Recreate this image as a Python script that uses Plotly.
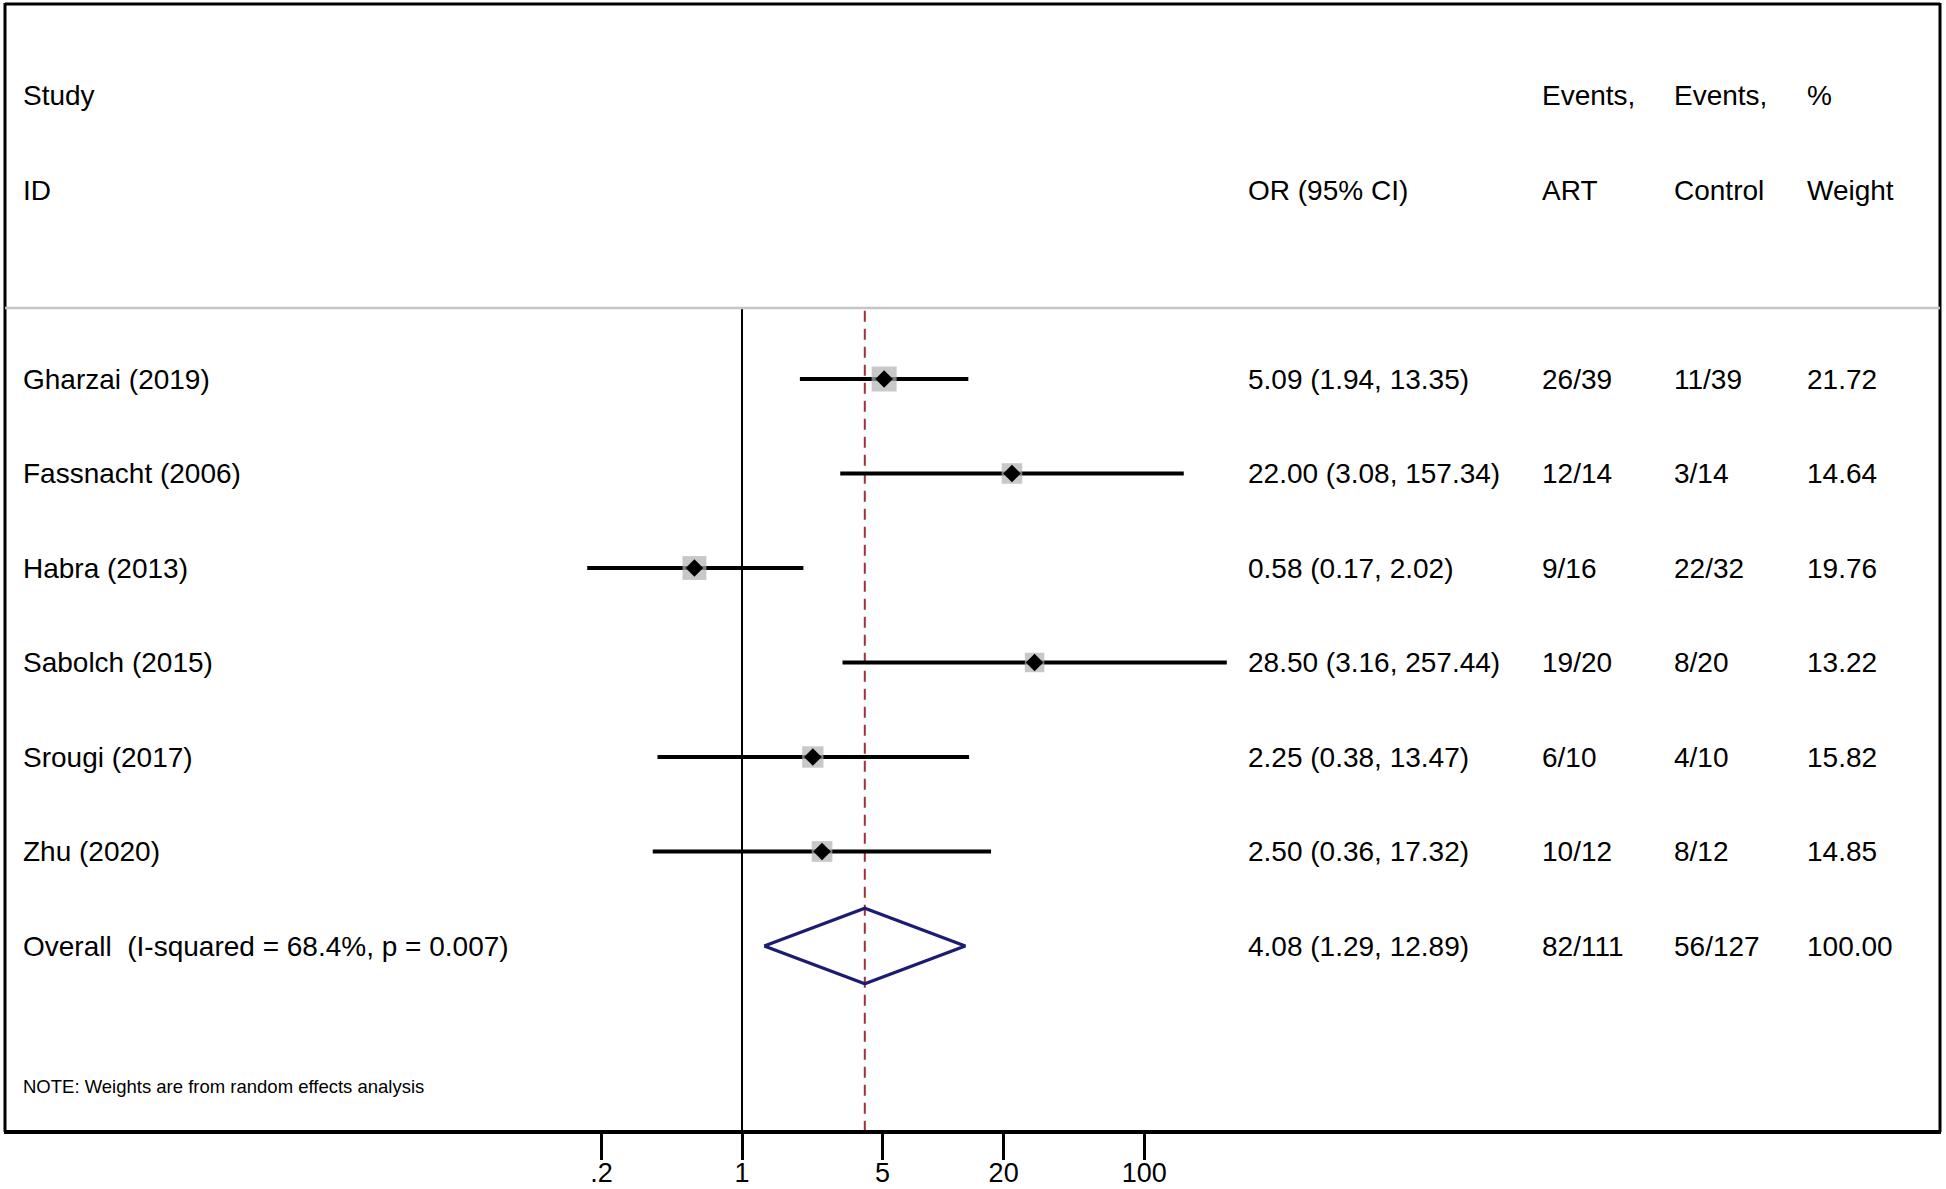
import plotly.graph_objects as go
import math

# ---------------- data ----------------
studies = ["Gharzai (2019)", "Fassnacht (2006)", "Habra (2013)", "Sabolch (2015)",
           "Srougi (2017)", "Zhu (2020)"]
or_est = [5.09, 22.00, 0.58, 28.50, 2.25, 2.50]
ci_lo = [1.94, 3.08, 0.17, 3.16, 0.38, 0.36]
ci_hi = [13.35, 157.34, 2.02, 257.44, 13.47, 17.32]
events_art = ["26/39", "12/14", "9/16", "19/20", "6/10", "10/12"]
events_ctrl = ["11/39", "3/14", "22/32", "8/20", "4/10", "8/12"]
weights = [21.72, 14.64, 19.76, 13.22, 15.82, 14.85]

overall_label = "Overall\u00a0\u00a0(I-squared = 68.4%, p = 0.007)"
overall_est = 4.08
overall_lo = 1.29
overall_hi = 12.89
overall_art = "82/111"
overall_ctrl = "56/127"
overall_weight = 100.00

tick_vals = [0.2, 1, 5, 20, 100]
tick_text = [".2", "1", "5", "20", "100"]

header_top = ["Study", "", "Events,", "Events,", "%"]
header_bot = ["ID", "OR (95% CI)", "ART", "Control", "Weight"]
note_text = "NOTE: Weights are from random effects analysis"

# ---------------- layout constants ----------------
W, H = 1946, 1189
MB = 57
PH = H - MB  # plot height
FONT = "Liberation Sans, Arial, sans-serif"
FS = 28

# y axis: row i at y=i ; px(from top) = 379 + 94.5*(y-1)
y_top = 1 - 379 / 94.5
y_bot = 1 + (PH - 379) / 94.5
# x axis (log): x=1 at px 742, 201.1 px / decade
x_left = (0 - 742) / 201.1
x_right = (W - 742) / 201.1

rows = list(range(1, len(studies) + 1))
overall_row = len(studies) + 1
line_y = 1 + (308 - 379) / 94.5
note_y = 1 + (1086 - 379) / 94.5

fig = go.Figure()

# reference line at 1
fig.add_trace(go.Scatter(x=[1, 1], y=[line_y, y_bot], mode="lines",
                         line=dict(color="black", width=2), hoverinfo="skip",
                         showlegend=False))
# overall dashed line
fig.add_trace(go.Scatter(x=[overall_est, overall_est], y=[line_y + 0.03, y_bot], mode="lines",
                         line=dict(color="#a3303a", width=2, dash="11px,7px"),
                         hoverinfo="skip", showlegend=False))

# CI lines
for r, lo, hi in zip(rows, ci_lo, ci_hi):
    fig.add_trace(go.Scatter(x=[lo, hi], y=[r, r], mode="lines",
                             line=dict(color="black", width=4),
                             hoverinfo="skip", showlegend=False))

# weight squares
fig.add_trace(go.Scatter(x=or_est, y=rows, mode="markers",
                         marker=dict(symbol="square", color="#b0b0b0",
                                     size=[25 * math.sqrt(w / 21.72) for w in weights],
                                     line=dict(width=0)),
                         hoverinfo="skip", showlegend=False))
# point estimates
fig.add_trace(go.Scatter(x=or_est, y=rows, mode="markers",
                         marker=dict(symbol="diamond", color="black", size=13.5,
                                     line=dict(width=0)),
                         hoverinfo="skip", showlegend=False))

# overall diamond
dh = 0.40
fig.add_trace(go.Scatter(x=[overall_lo, overall_est, overall_hi, overall_est, overall_lo],
                         y=[overall_row, overall_row - dh, overall_row, overall_row + dh, overall_row],
                         mode="lines", line=dict(color="#1c1c72", width=3.3),
                         hoverinfo="skip", showlegend=False))

# ---------------- text columns ----------------
col_x = [20.5, 1246, 1540, 1672, 1805]
ann = []


def add_text(px, y, text, size=FS):
    ann.append(dict(x=px / W, y=y, xref="paper", yref="y", text=text,
                    showarrow=False, xanchor="left", yanchor="middle",
                    font=dict(family=FONT, size=size, color="black")))


for cx, t in zip(col_x, header_top):
    if t:
        add_text(cx, -2, t)
for cx, t in zip(col_x, header_bot):
    add_text(cx, -1, t)

for r, s, e, lo, hi, a, c, w in zip(rows, studies, or_est, ci_lo, ci_hi,
                                     events_art, events_ctrl, weights):
    vals = [s, f"{e:.2f} ({lo:.2f}, {hi:.2f})", a, c, f"{w:.2f}"]
    for cx, t in zip(col_x, vals):
        add_text(cx, r, t)

ov_vals = [overall_label, f"{overall_est:.2f} ({overall_lo:.2f}, {overall_hi:.2f})",
           overall_art, overall_ctrl, f"{overall_weight:.2f}"]
for cx, t in zip(col_x, ov_vals):
    add_text(cx, overall_row, t)

add_text(20.5, note_y, note_text, size=18.5)

# ---------------- frame ----------------
shapes = [
    dict(type="line", xref="paper", yref="paper", x0=5 / W, x1=5 / W, y0=0, y1=1 - 3 / PH,
         line=dict(color="black", width=3)),
    dict(type="line", xref="paper", yref="paper", x0=5 / W, x1=1940 / W, y0=1 - 4 / PH, y1=1 - 4 / PH,
         line=dict(color="black", width=3)),
    dict(type="line", xref="paper", yref="paper", x0=1940 / W, x1=1940 / W, y0=0, y1=1 - 3 / PH,
         line=dict(color="black", width=3)),
    dict(type="line", xref="paper", yref="paper", x0=4 / W, x1=1941 / W, y0=0, y1=0,
         line=dict(color="black", width=4)),
    dict(type="line", xref="paper", yref="y", x0=5 / W, x1=1940 / W, y0=line_y, y1=line_y,
         line=dict(color="#c4c4c4", width=2.5)),
]

fig.update_layout(
    width=W, height=H,
    margin=dict(l=0, r=0, t=0, b=MB, autoexpand=False),
    paper_bgcolor="white", plot_bgcolor="white",
    annotations=ann, shapes=shapes,
    xaxis=dict(type="log", range=[x_left, x_right], tickvals=tick_vals, ticktext=tick_text,
               ticks="outside", ticklen=27, tickwidth=2.5, tickcolor="black",
               ticklabelstandoff=-10, automargin=False,
               showgrid=False, zeroline=False, showline=False,
               tickfont=dict(family=FONT, size=27, color="black")),
    yaxis=dict(range=[y_bot, y_top], visible=False, showgrid=False, zeroline=False,
               automargin=False),
    showlegend=False,
)

fig.write_html("out.html", config={"displayModeBar": False},
               post_script="document.body.style.margin='0';")
